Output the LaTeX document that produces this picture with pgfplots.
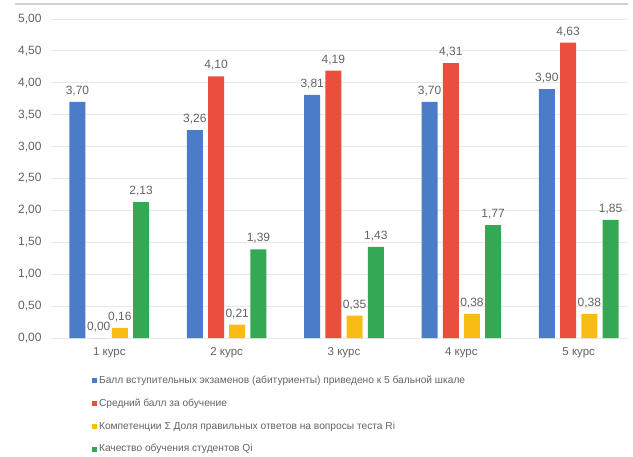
\documentclass[border=0pt]{standalone}
\usepackage{fontspec}
\setmainfont{Liberation Sans}
\usepackage{pgfplots}
\pgfplotsset{compat=1.18}
\definecolor{cBlue}{HTML}{4A7CC7}
\definecolor{cRed}{HTML}{EA4F3D}
\definecolor{cYel}{HTML}{F9BC15}
\definecolor{cGrn}{HTML}{34A853}
\definecolor{txt}{HTML}{636363}
\definecolor{gridc}{HTML}{E8E8E8}
\pgfplotsset{mylegend/.style={legend image code/.code={\fill[##1] (0pt,-2.8pt) rectangle (5pt,2.2pt);}}}
\begin{document}
\begin{tikzpicture}
\begin{axis}[at={(50.6pt,118pt)}, anchor=south west, scale only axis,
  width=577.4pt, height=319pt,
  ybar=5.2pt, bar width=16pt,
  xmin=-0.5, xmax=4.42, ymin=0, ymax=5,
  ytick={0,0.5,1,1.5,2,2.5,3,3.5,4,4.5,5},
  xtick=data,
  xticklabels={1 курс,2 курс,3 курс,4 курс,5 курс},
  axis line style={draw=none},
  ymajorgrids, grid style={gridc, line width=0.9pt},
  major tick length=0pt, tick style={draw=none},
  /pgf/number format/assume math mode=true,
  yticklabel style={/pgf/number format/.cd, fixed, fixed zerofill, precision=2, use comma, /tikz/.cd,
    font=\fontsize{12}{14}\selectfont, text=txt, xshift=-5.5pt},
  xticklabel style={font=\fontsize{11.5}{13}\selectfont, text=txt, yshift=-6pt},
  nodes near coords,
  every node near coord/.append style={font=\fontsize{12}{14}\selectfont, text=txt, yshift=2.5pt,
    /pgf/number format/.cd, fixed, fixed zerofill, precision=2, use comma, assume math mode=true},
  legend style={at={(0.0715,-0.112)}, anchor=north west, draw=none, fill=none,
    font=\fontsize{10.2}{12}\selectfont, text=txt, row sep=9.8pt, inner sep=0pt},
  legend cell align=left,
  clip=false,
]
\addplot[fill=cBlue, draw=none, mylegend] coordinates {(0,3.70) (1,3.26) (2,3.81) (3,3.70) (4,3.90)};
\addplot[fill=cRed, draw=none, mylegend] coordinates {(0,0.00) (1,4.10) (2,4.19) (3,4.31) (4,4.63)};
\addplot[fill=cYel, draw=none, mylegend] coordinates {(0,0.16) (1,0.21) (2,0.35) (3,0.38) (4,0.38)};
\addplot[fill=cGrn, draw=none, mylegend] coordinates {(0,2.13) (1,1.39) (2,1.43) (3,1.77) (4,1.85)};
\legend{Балл вступительных экзаменов (абитуриенты) приведено к 5 бальной шкале,
  Средний балл за обучение,
  Компетенции Σ Доля правильных ответов на вопросы теста Ri,
  Качество обучения студентов Qi}
\end{axis}
\pgfresetboundingbox
\useasboundingbox (0pt,0pt) rectangle (633pt,456pt);
\draw[color=gray!35, line width=1.2pt] (15pt,452pt) -- (628pt,452pt);
\end{tikzpicture}
\end{document}
